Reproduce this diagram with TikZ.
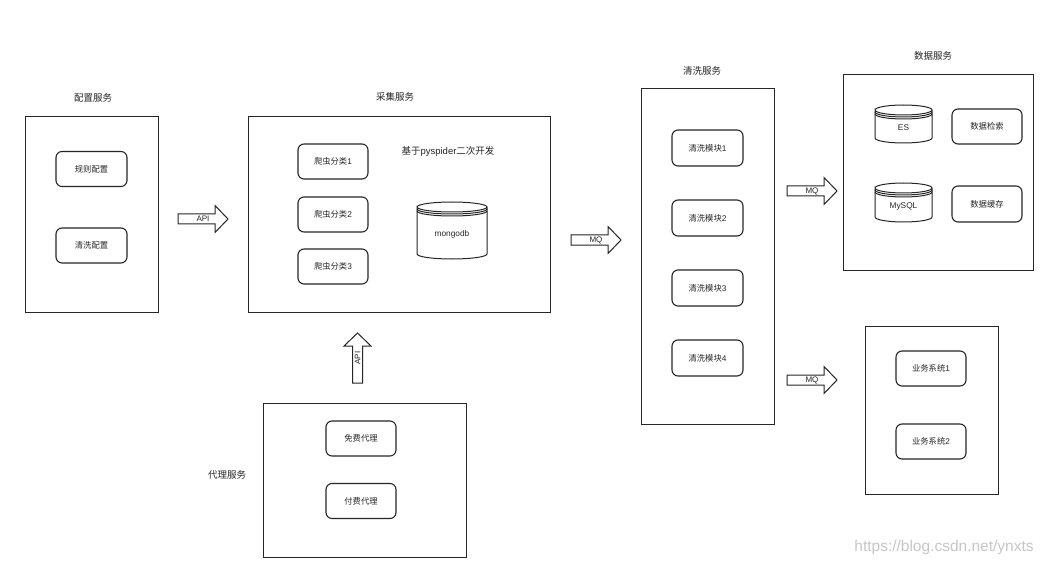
\documentclass[tikz,border=0pt]{standalone}
\usepackage{fontspec}
\setmainfont{Liberation Sans}
\newfontfamily\cjk{Noto Sans CJK SC}
\definecolor{ink}{HTML}{262626}
\newcommand{\dbcyl}[6]{%
  \draw[dbline] ({#2-#4},{#3+5}) arc[start angle=180,end angle=-180,x radius=#4pt,y radius=5pt]
     -- ({#2-#4},{#5-5}) arc[start angle=180,end angle=360,x radius=#4pt,y radius=5pt] -- ({#2+#4},{#3+5});
  \draw[dbline] ({#2-#4},{#3+7}) arc[start angle=180,end angle=360,x radius=#4pt,y radius=5pt];
  \draw[dbline] ({#2-#4},{#3+9}) arc[start angle=180,end angle=360,x radius=#4pt,y radius=5pt];
  \node[itemtext] (#1) at (#2,{(#3+#5)/2+4}) {#6};
}
\begin{document}
\begin{tikzpicture}[x=1pt,y=-1pt,
  panel/.style={draw=ink, line width=1.2pt, anchor=north west, inner sep=0pt},
  item/.style={draw=ink, line width=1.1pt, rounded corners=6pt, inner sep=0pt,
    minimum width=70, minimum height=35, text=ink, font=\fontsize{8.3}{10}\selectfont},
  itemtext/.style={text=ink, inner sep=0pt, font=\fontsize{8.3}{10}\selectfont},
  dbline/.style={draw=ink, line width=1pt},
  title/.style={text=ink, inner sep=0pt, font=\fontsize{9.5}{11}\selectfont},
  pics/bigarrow/.style={code={
    \draw[line width=1pt, draw=ink, fill=white] (0,-5) -- (37,-5) -- (37,-13.5) -- (50,0)
      -- (37,13.5) -- (37,5) -- (0,5) -- cycle;
    \node[transform shape, text=ink, font=\fontsize{8}{9}\selectfont, inner sep=0pt] (-lbl) at (25,0) {#1};
  }}]
\fill[white] (0,0) rectangle (1044,564);
\useasboundingbox (0,0) rectangle (1044,564);

% panels
\node[panel, minimum width=133, minimum height=196] (cfg) at (25,116) {};
\node[panel, minimum width=302, minimum height=196] (col) at (248,116) {};
\node[panel, minimum width=133, minimum height=336] (cln) at (641,88) {};
\node[panel, minimum width=190, minimum height=196] (dat) at (843,74) {};
\node[panel, minimum width=133, minimum height=168] (biz) at (865,326) {};
\node[panel, minimum width=203, minimum height=154] (prx) at (263,403) {};

% titles
\node[title] (tcfg) at (93,98) {\cjk 配置服务};
\node[title] (tcol) at (395,97) {\cjk 采集服务};
\node[title] (tcln) at (702,71) {\cjk 清洗服务};
\node[title] (tdat) at (933,56) {\cjk 数据服务};
\node[title] (tprx) at (227,475) {\cjk 代理服务};
\node[title] (tpy) at (448,151) {{\cjk 基于}pyspider{\cjk 二次开发}};

% config
\node[item, minimum width=71] (r1) at (91.5,169) {\cjk 规则配置};
\node[item, minimum width=71] (r2) at (91.5,245.5) {\cjk 清洗配置};

% collection
\node[item] (c1) at (333,161.5) {{\cjk 爬虫分类}1};
\node[item] (c2) at (333,214.5) {{\cjk 爬虫分类}2};
\node[item] (c3) at (333,266.5) {{\cjk 爬虫分类}3};
\dbcyl{mongo}{452}{202}{35}{259}{mongodb}

% cleaning
\node[item, minimum width=71, minimum height=36] (m1) at (707.5,148) {{\cjk 清洗模块}1};
\node[item, minimum width=71, minimum height=36] (m2) at (707.5,218) {{\cjk 清洗模块}2};
\node[item, minimum width=71, minimum height=36] (m3) at (707.5,288) {{\cjk 清洗模块}3};
\node[item, minimum width=71, minimum height=36] (m4) at (707.5,358) {{\cjk 清洗模块}4};

% data
\dbcyl{es}{903.5}{105}{28.5}{143}{ES}
\dbcyl{mysql}{903.5}{183}{28.5}{222}{MySQL}
\node[item] (d1) at (987,126.5) {\cjk 数据检索};
\node[item, minimum height=36] (d2) at (987,204) {\cjk 数据缓存};

% business
\node[item] (b1) at (931,368.5) {{\cjk 业务系统}1};
\node[item] (b2) at (931,441.5) {{\cjk 业务系统}2};

% proxy
\node[item] (p1) at (361,438.5) {\cjk 免费代理};
\node[item] (p2) at (361,501) {\cjk 付费代理};

% arrows
\pic (a1) at (178,219) {bigarrow=API};
\pic (a2) at (571,240) {bigarrow=MQ};
\pic (a3) at (787,191) {bigarrow=MQ};
\pic (a4) at (787,380) {bigarrow=MQ};
\pic[rotate=90] (a5) at (357.5,383) {bigarrow=API};

% watermark
\node[inner sep=0pt, text=black!22, font=\fontsize{15.5}{18}\selectfont] (wm) at (944,547) {https://blog.csdn.net/ynxts};
\end{tikzpicture}
\end{document}
